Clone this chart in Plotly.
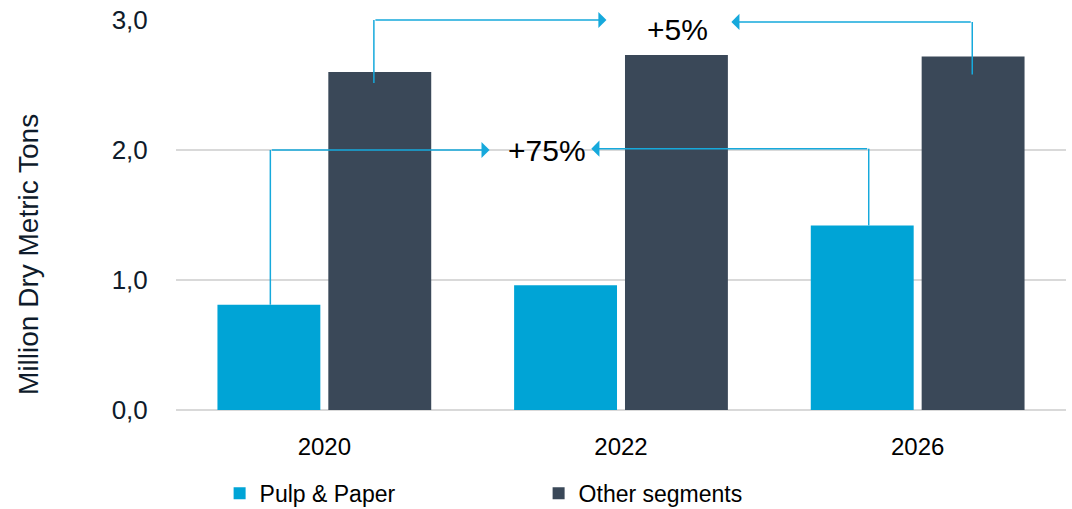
import plotly.graph_objects as go

years = ["2020", "2022", "2026"]
pulp_paper = [0.81, 0.96, 1.42]
other_segments = [2.60, 2.73, 2.72]
y_tickvals = [0.0, 1.0, 2.0, 3.0]
y_ticktext = ["0,0", "1,0", "2,0", "3,0"]
y_title = "Million Dry Metric Tons"

BLUE = "#00A4D6"
DARK = "#3A4858"
ARROW = "#16A9DC"
GRID = "#D9D9D9"
FONT = "Liberation Sans, Arial, sans-serif"

fig = go.Figure()
fig.add_trace(go.Bar(x=years, y=pulp_paper, name="Pulp & Paper", marker_color=BLUE,
                     marker_line_width=0))
fig.add_trace(go.Bar(x=years, y=other_segments, name="Other segments", marker_color=DARK,
                     marker_line_width=0))

# growth brackets (layout positions)
shapes = [
    dict(type="line", xref="x", yref="y", x0=-0.182, x1=-0.182, y0=pulp_paper[0], y1=2.0,
         line=dict(color=ARROW, width=1.5)),
    dict(type="line", xref="x", yref="y", x0=1.835, x1=1.835, y0=pulp_paper[2], y1=2.01,
         line=dict(color=ARROW, width=1.5)),
    dict(type="line", xref="x", yref="y", x0=0.167, x1=0.167, y0=2.515, y1=3.0,
         line=dict(color=ARROW, width=1.5)),
    dict(type="line", xref="x", yref="y", x0=2.184, x1=2.184, y0=2.58, y1=2.985,
         line=dict(color=ARROW, width=1.5)),
]

arrows = [
    dict(x=0.557, y=2.0, ax=-0.182, ay=2.0),
    dict(x=0.900, y=2.01, ax=1.835, ay=2.01),
    dict(x=0.951, y=3.0, ax=0.167, ay=3.0),
    dict(x=1.372, y=2.985, ax=2.184, ay=2.985),
]
annotations = []
for a in arrows:
    annotations.append(dict(xref="x", yref="y", axref="x", ayref="y", text="",
                            showarrow=True, arrowhead=1, arrowsize=1.8, arrowwidth=1.5,
                            arrowcolor=ARROW, standoff=0, startstandoff=0, **a))
annotations.append(dict(xref="x", yref="y", x=0.752, y=2.0, text="+75%", showarrow=False,
                        font=dict(family=FONT, size=30, color="#000000")))
annotations.append(dict(xref="x", yref="y", x=1.19, y=2.93, text="+5%", showarrow=False,
                        font=dict(family=FONT, size=30, color="#000000")))
# y-axis title (placed as rotated text to match the reference's vertical position)
annotations.append(dict(xref="paper", yref="paper", x=-0.165, y=0.398, text=y_title,
                        textangle=-90, showarrow=False, xanchor="center", yanchor="middle",
                        font=dict(family=FONT, size=28, color="#0E1B2B")))

fig.update_layout(
    width=1072, height=509,
    margin=dict(l=176, r=6, t=20, b=99, autoexpand=False),
    paper_bgcolor="white", plot_bgcolor="white",
    barmode="group", bargap=0.2525, bargroupgap=0.072,
    font=dict(family=FONT, color="#000000"),
    shapes=shapes, annotations=annotations,
    showlegend=True,
    legend=dict(orientation="h", x=0.049, xanchor="left", yref="container", y=0.031,
                yanchor="middle",
                font=dict(family=FONT, size=23, color="#000000"),
                entrywidth=274, entrywidthmode="pixels", traceorder="normal",
                bgcolor="rgba(0,0,0,0)"),
    xaxis=dict(type="category", range=[-0.5, 2.5], showgrid=False, zeroline=False,
               showline=False, ticks="outside", ticklen=15, tickcolor="rgba(0,0,0,0)",
               tickfont=dict(family=FONT, size=24, color="#000000"), automargin=False),
    yaxis=dict(range=[0, 3.0], tickvals=y_tickvals, ticktext=y_ticktext,
               showgrid=True, gridcolor=GRID, gridwidth=1.5, zeroline=True,
               zerolinecolor=GRID, zerolinewidth=1.5, showline=False,
               ticks="outside", ticklen=22, tickcolor="rgba(0,0,0,0)",
               tickfont=dict(family=FONT, size=26, color="#0E1B2B"),
               automargin=False),
)

fig.write_html("out.html")
